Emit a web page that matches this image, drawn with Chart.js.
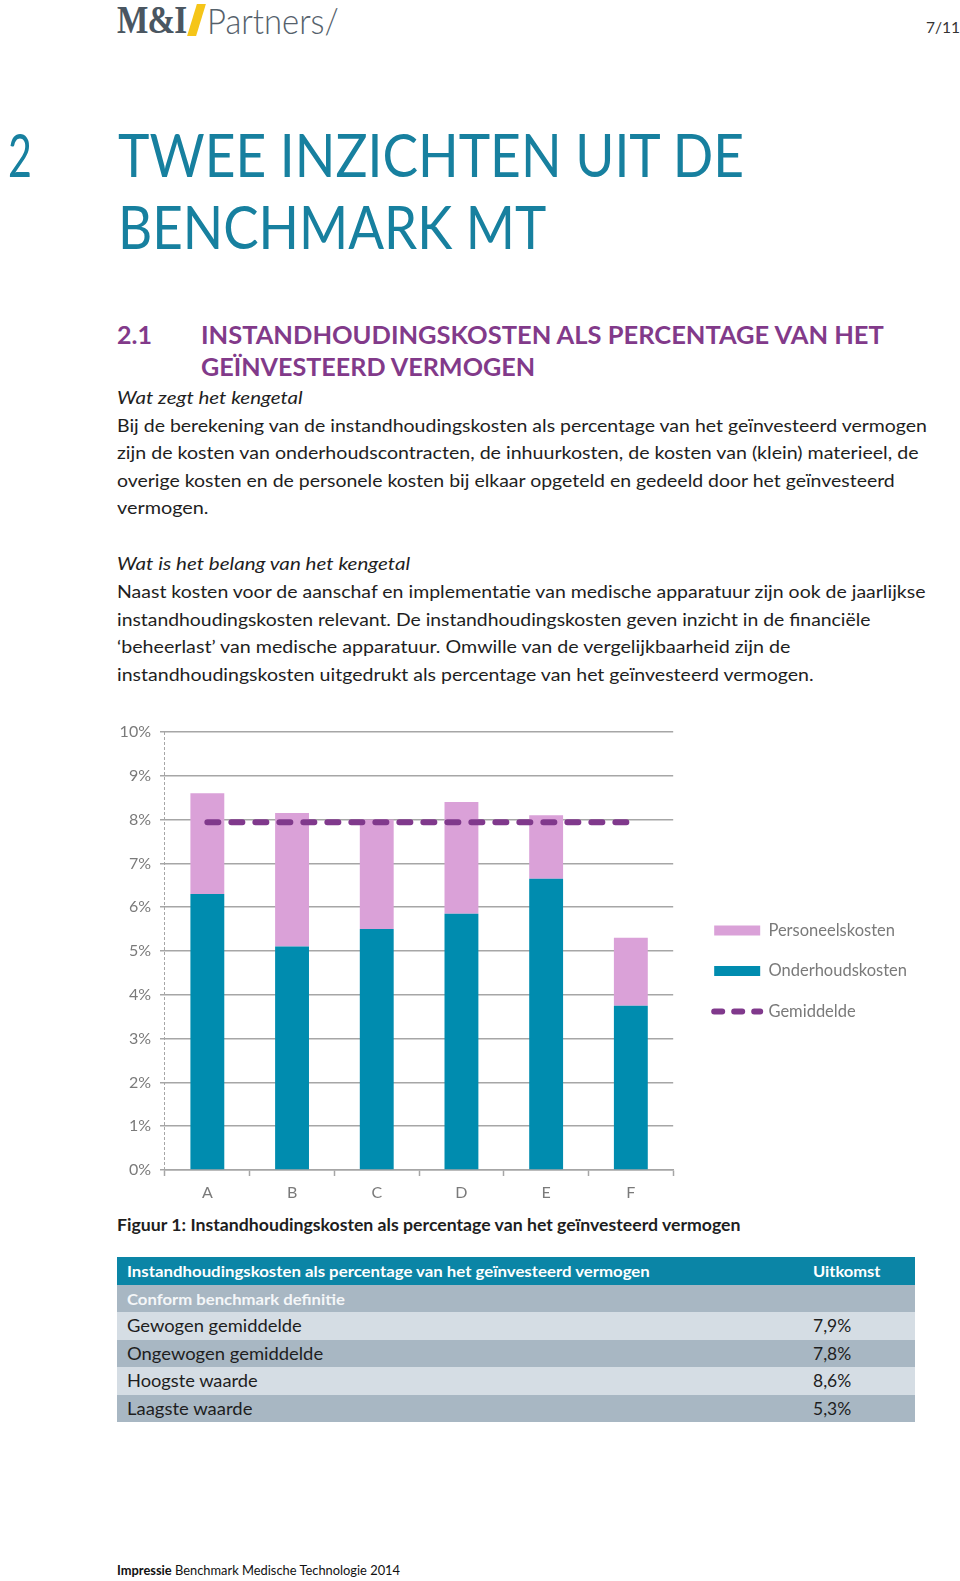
<!DOCTYPE html>
<html>
<head>
<meta charset="utf-8">
<script src="https://cdn.jsdelivr.net/npm/chart.js@4.4.1/dist/chart.umd.min.js"></script>
<style>
  html, body { margin:0; padding:0; background:#fff; }
  body { width:960px; height:1581px; position:relative; overflow:hidden; font-family: Lato, "Open Sans", sans-serif; color:#1e1e1e; }
  .t { position:absolute; white-space:nowrap; transform-origin:0 50%; display:inline-block; }
  .body { font-size:17px; line-height:28px; height:28px; left:117px; }
  .it { font-style:italic; }
  .h1 { font-size:60px; line-height:72px; color:#17809f; font-weight:400; }
  .h2 { font-size:25px; line-height:30px; color:#823a8a; font-weight:700; }
  .row { position:absolute; left:117px; width:798px; }
  .cell { font-size:17px; line-height:27px; }
  #chartBox { position:absolute; left:101px; top:712px; }
</style>
</head>
<body>
<!-- header -->
<span class="t" data-w="69" style="left:117px; top:0px; font-family:'Liberation Serif'; font-weight:700; font-size:39px; line-height:40px; color:#4a5661; letter-spacing:-1px;">M&amp;I</span>
<div style="position:absolute; left:192px; top:4px; width:9px; height:32px; background:#f5c518; transform:skewX(-17deg);"></div>
<span class="t" data-w="132" style="left:207px; top:0px; font-weight:300; font-size:36px; line-height:40px; color:#55616b;">Partners/</span>
<span class="t" data-w="34" style="left:926px; top:18px; font-size:16px; line-height:18px; color:#333;">7/11</span>

<span class="t h1" data-w="24" style="left:8px; top:118px;">2</span>
<span class="t h1" data-w="626" style="left:118px; top:118px;">TWEE INZICHTEN UIT DE</span>
<span class="t h1" data-w="428" style="left:118px; top:190px;">BENCHMARK MT</span>

<span class="t h2" data-w="35" style="left:117px; top:319px;">2.1</span>
<span class="t h2" data-w="683" style="left:201px; top:319px;">INSTANDHOUDINGSKOSTEN ALS PERCENTAGE VAN HET</span>
<span class="t h2" data-w="334" style="left:201px; top:351px;">GEÏNVESTEERD VERMOGEN</span>

<span class="t body it" data-w="186" style="top:384px;">Wat zegt het kengetal</span>
<span class="t body" data-w="810" style="top:411.5px;">Bij de berekening van de instandhoudingskosten als percentage van het geïnvesteerd vermogen</span>
<span class="t body" data-w="802" style="top:439px;">zijn de kosten van onderhoudscontracten, de inhuurkosten, de kosten van (klein) materieel, de</span>
<span class="t body" data-w="778" style="top:467px;">overige kosten en de personele kosten bij elkaar opgeteld en gedeeld door het geïnvesteerd</span>
<span class="t body" data-w="91" style="top:494px;">vermogen.</span>

<span class="t body it" data-w="293" style="top:549.5px;">Wat is het belang van het kengetal</span>
<span class="t body" data-w="809" style="top:577.5px;">Naast kosten voor de aanschaf en implementatie van medische apparatuur zijn ook de jaarlijkse</span>
<span class="t body" data-w="754" style="top:605.5px;">instandhoudingskosten relevant. De instandhoudingskosten geven inzicht in de financiële</span>
<span class="t body" data-w="673" style="top:632.5px;">‘beheerlast’ van medische apparatuur. Omwille van de vergelijkbaarheid zijn de</span>
<span class="t body" data-w="696" style="top:660.5px;">instandhoudingskosten uitgedrukt als percentage van het geïnvesteerd vermogen.</span>

<div id="chartBox"><canvas id="c"></canvas></div>

<span class="t body" data-w="624" style="top:1211px; font-weight:700;">Figuur 1: Instandhoudingskosten als percentage van het geïnvesteerd vermogen</span>

<!-- table -->
<div class="row" style="top:1257px; height:28px; background:#0b85a6;"></div>
<div class="row" style="top:1285px; height:27px; background:#a8b7c3;"></div>
<div class="row" style="top:1312px; height:28px; background:#d5dde4;"></div>
<div class="row" style="top:1340px; height:27px; background:#a8b7c3;"></div>
<div class="row" style="top:1367px; height:28px; background:#d5dde4;"></div>
<div class="row" style="top:1395px; height:27px; background:#a8b7c3;"></div>

<span class="t cell" data-w="523" style="left:127px; top:1257px; font-size:16px; font-weight:700; color:#fff;">Instandhoudingskosten als percentage van het geïnvesteerd vermogen</span>
<span class="t cell" data-w="67" style="left:813px; top:1257px; font-size:16px; font-weight:700; color:#fff;">Uitkomst</span>
<span class="t cell" data-w="218" style="left:127px; top:1285px; font-size:16px; font-weight:700; color:#f4f6f8;">Conform benchmark definitie</span>
<span class="t cell" data-w="175" style="left:127px; top:1312px;">Gewogen gemiddelde</span>
<span class="t cell" data-w="38" style="left:813px; top:1312px;">7,9%</span>
<span class="t cell" data-w="196" style="left:127px; top:1340px;">Ongewogen gemiddelde</span>
<span class="t cell" data-w="38" style="left:813px; top:1340px;">7,8%</span>
<span class="t cell" data-w="131" style="left:127px; top:1367px;">Hoogste waarde</span>
<span class="t cell" data-w="38" style="left:813px; top:1367px;">8,6%</span>
<span class="t cell" data-w="125" style="left:127px; top:1395px;">Laagste waarde</span>
<span class="t cell" data-w="38" style="left:813px; top:1395px;">5,3%</span>

<span class="t" data-w="283" style="left:117px; top:1561px; font-size:14px; line-height:18px; color:#111;"><b>Impressie</b> Benchmark Medische Technologie 2014</span>

<script>
// ---- data ----
const categories = ['A', 'B', 'C', 'D', 'E', 'F'];
const onderhoudskosten = [6.3, 5.1, 5.5, 5.85, 6.65, 3.75];
const personeelskosten = [2.3, 3.05, 2.5, 2.55, 1.45, 1.55];
const gemiddelde = [7.94, 7.94, 7.94, 7.94, 7.94, 7.94];
const yTickValues = [0, 1, 2, 3, 4, 5, 6, 7, 8, 9, 10];
const seriesLabels = ['Onderhoudskosten', 'Personeelskosten', 'Gemiddelde'];
const legendOrder = [1, 0, 2];

// ---- fit text widths ----
function fitText() {
  document.querySelectorAll('[data-w]').forEach(el => {
    const w = parseFloat(el.dataset.w);
    const a = el.offsetWidth;
    if (a > 0) el.style.transform = 'scaleX(' + (w / a) + ')';
  });
}
fitText();

// ---- chart ----
const TEAL = '#008caf', PINK = '#daa1d8', PURPLE = '#80398c', GRID = '#a6a6a6', LABEL = '#7a7a7a';
const FONT = { family: 'Lato', size: 16 };
const LEG_FONT = { family: 'Lato', size: 16.5 };
const Y_W = 64, PLOT_W = 507, GAP_W = 17, TOP_PAD = 20, PLOT_H = 438, X_H = 40;
const LEG_PAD = 24, LEG_BOX = 46;

const mctx = document.createElement('canvas').getContext('2d');
mctx.font = '16.5px Lato';
const textW = Math.max(...seriesLabels.map(t => mctx.measureText(t).width));
const legendW = LEG_PAD + LEG_BOX + 8.25 + textW + 10;

const canvas = document.getElementById('c');
const cw = Math.ceil(Y_W + PLOT_W + GAP_W + legendW) + 1;
const ch = TOP_PAD + PLOT_H + X_H;
canvas.width = cw; canvas.height = ch;
canvas.style.width = cw + 'px'; canvas.style.height = ch + 'px';

new Chart(canvas, {
  type: 'bar',
  data: {
    labels: categories,
    datasets: [
      { label: seriesLabels[0], data: onderhoudskosten, backgroundColor: TEAL, stack: 's', order: 1 },
      { label: seriesLabels[1], data: personeelskosten, backgroundColor: PINK, stack: 's', order: 1 },
      { type: 'line', label: seriesLabels[2], data: gemiddelde, borderColor: PURPLE, backgroundColor: PURPLE,
        borderWidth: 6, borderDash: [11, 13], borderCapStyle: 'round', pointRadius: 0, fill: false,
        stack: 'avg', order: 0, tension: 0 }
    ]
  },
  options: {
    responsive: false,
    animation: false,
    devicePixelRatio: 1,
    layout: { padding: { top: TOP_PAD } },
    datasets: { bar: { barPercentage: 0.4, categoryPercentage: 1 } },
    scales: {
      x: {
        stacked: true,
        grid: {
          display: true, drawOnChartArea: true, drawTicks: true, tickLength: 6, offset: true,
          color: c => (c.index === 0 ? GRID : 'rgba(0,0,0,0)'),
          tickColor: GRID, lineWidth: 1, tickWidth: 1.5, tickBorderDash: []
        },
        border: { display: true, color: GRID, width: 1.5, dash: [3, 2] },
        ticks: { color: LABEL, font: FONT, padding: 7 },
        afterFit(s) { s.height = X_H; }
      },
      y: {
        stacked: true, min: 0, max: 10,
        afterBuildTicks(s) { s.ticks = yTickValues.map(v => ({ value: v })); },
        ticks: { color: LABEL, font: FONT, padding: 9, callback: v => v + '%' },
        grid: { color: GRID, lineWidth: 1.5, tickLength: 5 },
        border: { display: false },
        afterFit(s) { s.width = Y_W; }
      },
      gap: {
        type: 'linear', position: 'right', display: true,
        grid: { display: false }, ticks: { display: false }, border: { display: false },
        afterFit(s) { s.width = GAP_W; }
      }
    },
    plugins: {
      tooltip: { enabled: false },
      legend: {
        position: 'right',
        align: 'center',
        maxWidth: 600,
        labels: {
          usePointStyle: true,
          pointStyleWidth: LEG_BOX,
          boxHeight: 10,
          padding: LEG_PAD,
          color: LABEL,
          font: LEG_FONT,
          generateLabels(chart) {
            const ds = chart.data.datasets;
            return legendOrder.map(i => {
              const d = ds[i];
              const isLine = d.type === 'line';
              return {
                text: d.label,
                fillStyle: isLine ? d.borderColor : d.backgroundColor,
                strokeStyle: isLine ? d.borderColor : d.backgroundColor,
                lineWidth: isLine ? d.borderWidth : 0,
                lineDash: isLine ? [8, 12] : [],
                lineCap: isLine ? 'round' : 'butt',
                pointStyle: isLine ? 'line' : 'rect',
                fontColor: LABEL,
                hidden: false,
                datasetIndex: i
              };
            });
          }
        }
      }
    }
  }
});
</script>
</body>
</html>
